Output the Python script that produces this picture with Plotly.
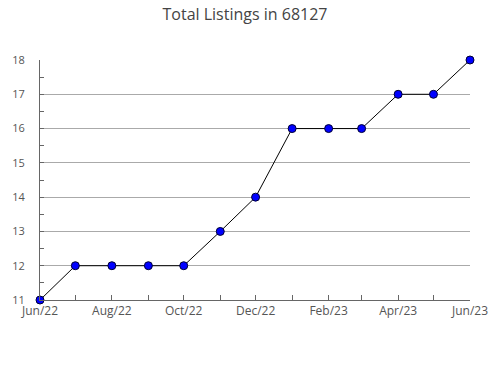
import plotly.graph_objects as go

months = ["2022-06-01", "2022-07-01", "2022-08-01", "2022-09-01", "2022-10-01",
          "2022-11-01", "2022-12-01", "2023-01-01", "2023-02-01", "2023-03-01",
          "2023-04-01", "2023-05-01", "2023-06-01"]
listings = [11, 12, 12, 12, 12, 13, 14, 16, 16, 16, 17, 17, 18]
tick_labels = ["Jun/22", "", "Aug/22", "", "Oct/22", "", "Dec/22", "", "Feb/23", "",
               "Apr/23", "", "Jun/23"]
y_ticks = [11, 12, 13, 14, 15, 16, 17, 18]

fig = go.Figure()
fig.add_trace(go.Scatter(
    x=months, y=listings, mode="lines+markers",
    line=dict(color="black", width=1),
    marker=dict(symbol="circle", size=8, color="#0000ff",
                line=dict(color="#000033", width=1)),
    cliponaxis=False, showlegend=False,
))

fig.update_layout(
    template="none",
    width=490, height=380,
    margin=dict(l=40, r=20, t=60, b=80),
    paper_bgcolor="white", plot_bgcolor="white",
    font=dict(family="Open Sans, sans-serif", color="#555", size=11),
    title=dict(text="Total Listings in 68127", x=0.5, xanchor="center",
               y=0.962, yanchor="middle",
               font=dict(size=16, color="#444", family="Open Sans, sans-serif")),
)
fig.update_xaxes(
    type="date", range=[months[0], months[-1]], automargin=False,
    tickvals=months, ticktext=tick_labels,
    ticks="inside", ticklen=5, tickcolor="#666", tickwidth=1,
    showline=True, linecolor="#666", linewidth=1,
    showgrid=False, zeroline=False,
    tickfont=dict(size=12, color="#555"),
)
fig.update_yaxes(
    range=[11, 18], tickvals=y_ticks, automargin=False,
    ticks="inside", ticklen=4, tickcolor="#666", tickwidth=1,
    ticklabelstandoff=12,
    showline=True, linecolor="#666", linewidth=1,
    showgrid=True, gridcolor="#aaaaaa", gridwidth=1, zeroline=False,
    minor=dict(dtick=0.5, tick0=11, ticks="inside", ticklen=4, tickcolor="#666", showgrid=False),
    tickfont=dict(size=11, color="#555"),
)

fig.write_html("out.html")
